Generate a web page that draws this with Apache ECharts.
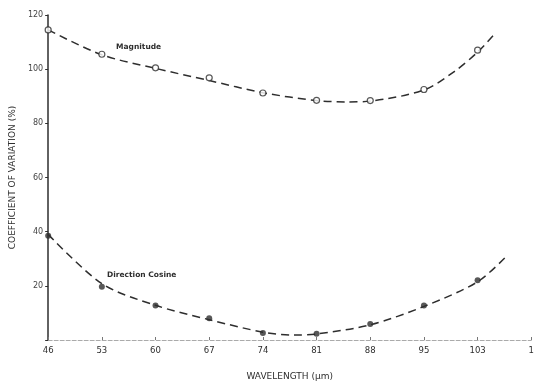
<!DOCTYPE html>
<html><head><meta charset="utf-8">
<script src="https://cdn.jsdelivr.net/npm/echarts@6/dist/echarts.min.js"></script>
<style>html,body{margin:0;padding:0;background:#fff}#c{width:537px;height:386px}</style>
</head><body><div id="c"></div>
<script>
// Measured wavelengths (positions on the evenly spaced axis)
const wavelengths = [46, 53, 60, 67, 74, 81, 88, 95, 102];
const xTickLabels = ['46', '53', '60', '67', '74', '81', '88', '95', '103', '1'];
const yTickValues = [20, 40, 60, 80, 100, 120];

// Data points
const magnitude = [114.5, 105.5, 100.5, 96.8, 91.2, 88.5, 88.4, 92.5, 107];
const directionCosine = [38.5, 19.7, 12.7, 8.0, 2.6, 2.3, 5.9, 12.7, 22.1];

// Dashed fitted curves
const magCurveX = [46, 53, 60, 67, 74, 81, 85, 88, 95, 99, 102, 104.3];
const magCurveY = [114.5, 105.3, 100.3, 95.8, 91.3, 88.4, 87.9, 88.2, 92.3, 99.2, 106.3, 113.3];
const dirCurveX = [46, 53, 60, 67, 74, 78, 81, 88, 95, 102, 106];
const dirCurveY = [39, 20.8, 12.8, 7.5, 2.9, 1.8, 2.2, 5.6, 12.4, 21.5, 31.6];

const zip = (xs, ys) => xs.map((x, i) => [x, ys[i]]);
const ink = '#2e2e2e';
const font = 'DejaVu Sans';

const chart = echarts.init(document.getElementById('c'), null, {renderer: 'canvas'});
chart.setOption({
  animation: false,
  backgroundColor: '#fff',
  grid: {left: 45, right: 5, top: 15, bottom: 44},
  xAxis: {
    type: 'value', min: 46, max: 109, interval: 7,
    name: 'WAVELENGTH (\u03bcm)', nameLocation: 'middle', nameGap: 32,
    nameTextStyle: {fontFamily: font, fontSize: 9, color: ink},
    axisLine: {lineStyle: {color: '#aaa', type: [4, 2], width: 1}},
    axisTick: {inside: true, length: 3, lineStyle: {color: '#777'}},
    axisLabel: {fontFamily: font, fontSize: 8.5, color: ink, margin: 6,
      formatter: v => xTickLabels[Math.round((v - 46) / 7)] || ''},
    splitLine: {show: false}
  },
  yAxis: {
    type: 'value', min: 0, max: 120, interval: 20,
    name: 'COEFFICIENT OF VARIATION (%)', nameLocation: 'middle', nameGap: 29,
    nameTextStyle: {fontFamily: font, fontSize: 9, color: ink},
    axisLine: {show: true, lineStyle: {color: ink, width: 1.5}},
    axisTick: {show: true, length: 3, lineStyle: {color: ink}},
    axisLabel: {fontFamily: font, fontSize: 8, color: '#444', margin: 5,
      formatter: v => yTickValues.includes(v) ? String(v) : ''},
    splitLine: {show: false}
  },
  series: [
    {type: 'line', data: zip(magCurveX, magCurveY), smooth: 0.3, showSymbol: false,
     lineStyle: {color: ink, width: 1.5, type: [8, 5]}, z: 2},
    {type: 'line', data: zip(dirCurveX, dirCurveY), smooth: 0.3, showSymbol: false,
     lineStyle: {color: ink, width: 1.5, type: [8, 5]}, z: 2},
    {type: 'scatter', data: zip(wavelengths, magnitude), symbol: 'circle', symbolSize: 6,
     itemStyle: {color: '#fff', borderColor: ink, borderWidth: 1.2}, z: 3},
    {type: 'scatter', data: zip(wavelengths, directionCosine), symbol: 'circle', symbolSize: 6,
     itemStyle: {color: ink}, z: 3}
  ],
  graphic: [
    {type: 'text', left: 116, top: 43,
     style: {text: 'Magnitude', fontFamily: font, fontSize: 7.5, fontWeight: 'bold', fill: ink}},
    {type: 'text', left: 107, top: 271,
     style: {text: 'Direction Cosine', fontFamily: font, fontSize: 7.5, fontWeight: 'bold', fill: ink}}
  ]
});
</script></body></html>
